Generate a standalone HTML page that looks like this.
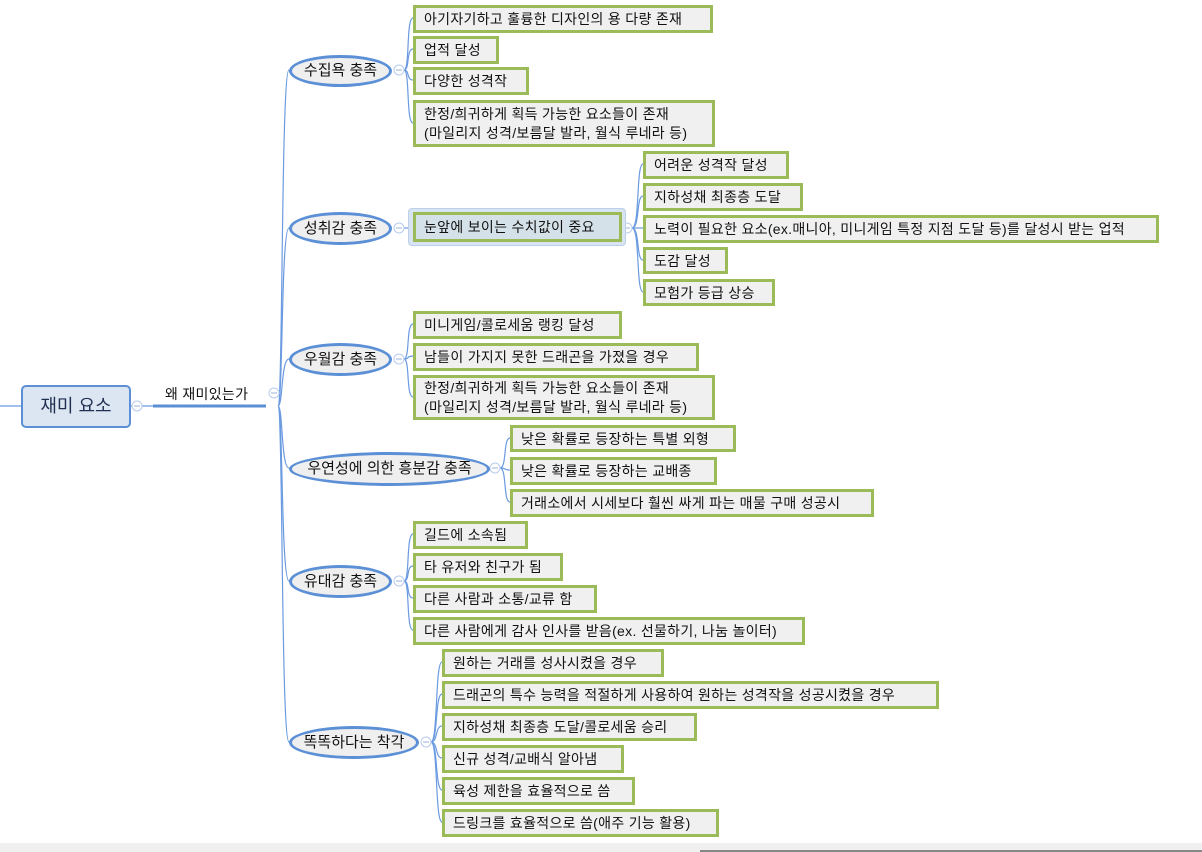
<!DOCTYPE html>
<html><head><meta charset="utf-8"><style>
body{margin:0;width:1202px;height:852px;background:#fff;position:relative;overflow:hidden;font-family:"Liberation Sans","Noto Sans CJK KR","NanumGothic",sans-serif;color:#111}
.b{position:absolute;box-sizing:border-box;border:3px solid #9bbb59;background:#f0f0f0;font-size:14px;line-height:20px;padding:1px 8px;white-space:nowrap;overflow:hidden;letter-spacing:0.3px}
.e{position:absolute;box-sizing:border-box;border:3px solid #5b8fd6;border-radius:50%;background:#efefef;font-size:15px;text-align:center;white-space:nowrap}
.t{position:absolute;font-size:14px;white-space:nowrap;letter-spacing:0.3px}
</style></head><body>
<svg width="1202" height="852" style="position:absolute;left:0;top:0">
<g fill="none" stroke="#6a9ae0" stroke-width="1.2">
<path d="M0,406 H21"/><path d="M130,406 H153"/>
<path d="M278,406 C283,406 281,70 289,70"/>
<path d="M278,406 C283,406 281,228 289,228"/>
<path d="M278,406 C283,406 281,359 289,359"/>
<path d="M278,406 C283,406 281,468 289,468"/>
<path d="M278,406 C283,406 281,581 289,581"/>
<path d="M278,406 C283,406 281,742 289,742"/>
<path d="M404,70 C410,70 406,18 413,18"/><path d="M404,70 C410,70 406,49 413,49"/><path d="M404,70 C410,70 406,80 413,80"/><path d="M404,70 C410,70 406,123 413,123"/>
<path d="M404,228 H413"/>
<path d="M632,228 C640,228 636,164 643,164"/><path d="M632,228 C640,228 636,196 643,196"/><path d="M632,228 H643"/><path d="M632,228 C640,228 636,260 643,260"/><path d="M632,228 C640,228 636,292 643,292"/>
<path d="M404,359 C410,359 406,324 413,324"/><path d="M404,359 C410,359 406,356 413,356"/><path d="M404,359 C410,359 406,397 413,397"/>
<path d="M500,468 C507,468 503,438 510,438"/><path d="M500,468 C507,468 503,470 510,470"/><path d="M500,468 C507,468 503,502 510,502"/>
<path d="M404,581 C410,581 406,534 413,534"/><path d="M404,581 C410,581 406,566 413,566"/><path d="M404,581 C410,581 406,598 413,598"/><path d="M404,581 C410,581 406,630 413,630"/>
<path d="M431,742 C438,742 435,662 442,662"/><path d="M431,742 C438,742 435,694 442,694"/><path d="M431,742 C438,742 435,726 442,726"/><path d="M431,742 C438,742 435,758 442,758"/><path d="M431,742 C438,742 435,790 442,790"/><path d="M431,742 C438,742 435,822 442,822"/>
</g>
<line x1="153" y1="406" x2="266" y2="406" stroke="#5b8fd6" stroke-width="3"/>
<g fill="#fff" stroke="#b8cbee" stroke-width="1">
<circle cx="137" cy="406" r="5"/><circle cx="274" cy="393" r="5"/>
<circle cx="399" cy="70" r="5"/><circle cx="399" cy="228" r="5"/><circle cx="399" cy="359" r="5"/><circle cx="495" cy="468" r="5"/><circle cx="399" cy="581" r="5"/><circle cx="426" cy="742" r="5"/><circle cx="627" cy="228" r="5"/>
</g>
<g stroke="#9ab0d8" stroke-width="1"><line x1="134" y1="406" x2="140" y2="406"/><line x1="271" y1="393" x2="277" y2="393"/><line x1="396" y1="70" x2="402" y2="70"/><line x1="396" y1="228" x2="402" y2="228"/><line x1="396" y1="359" x2="402" y2="359"/><line x1="492" y1="468" x2="498" y2="468"/><line x1="396" y1="581" x2="402" y2="581"/><line x1="423" y1="742" x2="429" y2="742"/><line x1="624" y1="228" x2="630" y2="228"/></g>
</svg>
<div style="position:absolute;left:21px;top:385px;width:110px;height:43px;box-sizing:border-box;border:2px solid #5b8fd6;border-radius:5px;background:#dce6f2;font-size:18px;line-height:39px;text-align:center;color:#1f2f50">재미 요소</div>
<div class="t" style="left:165px;top:384px">왜 재미있는가</div>

<div class="e" style="left:289px;top:55px;width:103px;height:32px;line-height:26px">수집욕 충족</div>
<div class="e" style="left:289px;top:212px;width:103px;height:33px;line-height:27px">성취감 충족</div>
<div class="e" style="left:289px;top:343px;width:103px;height:33px;line-height:27px">우월감 충족</div>
<div class="e" style="left:289px;top:452px;width:201px;height:34px;line-height:28px">우연성에 의한 흥분감 충족</div>
<div class="e" style="left:289px;top:565px;width:103px;height:33px;line-height:27px">유대감 충족</div>
<div class="e" style="left:289px;top:726px;width:130px;height:33px;line-height:27px">똑똑하다는 착각</div>

<div class="b" style="left:413px;top:5px;width:300px;height:28px">아기자기하고 훌륭한 디자인의 용 다량 존재</div>
<div class="b" style="left:413px;top:36px;width:86px;height:28px">업적 달성</div>
<div class="b" style="left:413px;top:67px;width:116px;height:28px">다양한 성격작</div>
<div class="b" style="left:413px;top:100px;width:302px;height:47px;line-height:19px;padding-top:2px">한정/희귀하게 획득 가능한 요소들이 존재<br>(마일리지 성격/보름달 발라, 월식 루네라 등)</div>

<div style="position:absolute;left:408px;top:208px;width:218px;height:38px;border-radius:4px;background:#d8e4f2;border:1px solid #bcd0ea;box-sizing:border-box"></div>
<div class="b" style="left:413px;top:212px;width:209px;height:30px;background:#d5e1e8;line-height:22px">눈앞에 보이는 수치값이 중요</div>

<div class="b" style="left:643px;top:151px;width:146px;height:28px">어려운 성격작 달성</div>
<div class="b" style="left:643px;top:183px;width:160px;height:28px">지하성채 최종층 도달</div>
<div class="b" style="left:643px;top:215px;width:516px;height:28px">노력이 필요한 요소(ex.매니아, 미니게임 특정 지점 도달 등)를 달성시 받는 업적</div>
<div class="b" style="left:643px;top:247px;width:85px;height:27px">도감 달성</div>
<div class="b" style="left:643px;top:279px;width:132px;height:27px">모험가 등급 상승</div>

<div class="b" style="left:413px;top:311px;width:209px;height:28px">미니게임/콜로세움 랭킹 달성</div>
<div class="b" style="left:413px;top:343px;width:286px;height:28px">남들이 가지지 못한 드래곤을 가졌을 경우</div>
<div class="b" style="left:413px;top:375px;width:302px;height:45px;line-height:19px;padding-top:1px">한정/희귀하게 획득 가능한 요소들이 존재<br>(마일리지 성격/보름달 발라, 월식 루네라 등)</div>

<div class="b" style="left:510px;top:425px;width:226px;height:27px">낮은 확률로 등장하는 특별 외형</div>
<div class="b" style="left:510px;top:457px;width:207px;height:28px">낮은 확률로 등장하는 교배종</div>
<div class="b" style="left:510px;top:489px;width:364px;height:28px">거래소에서 시세보다 훨씬 싸게 파는 매물 구매 성공시</div>

<div class="b" style="left:413px;top:521px;width:115px;height:28px">길드에 소속됨</div>
<div class="b" style="left:413px;top:553px;width:150px;height:28px">타 유저와 친구가 됨</div>
<div class="b" style="left:413px;top:585px;width:184px;height:28px">다른 사람과 소통/교류 함</div>
<div class="b" style="left:413px;top:617px;width:392px;height:28px">다른 사람에게 감사 인사를 받음(ex. 선물하기, 나눔 놀이터)</div>

<div class="b" style="left:442px;top:649px;width:222px;height:28px">원하는 거래를 성사시켰을 경우</div>
<div class="b" style="left:442px;top:681px;width:497px;height:28px">드래곤의 특수 능력을 적절하게 사용하여 원하는 성격작을 성공시켰을 경우</div>
<div class="b" style="left:442px;top:713px;width:255px;height:28px">지하성채 최종층 도달/콜로세움 승리</div>
<div class="b" style="left:442px;top:745px;width:182px;height:28px">신규 성격/교배식 알아냄</div>
<div class="b" style="left:442px;top:777px;width:193px;height:28px">육성 제한을 효율적으로 씀</div>
<div class="b" style="left:442px;top:809px;width:277px;height:28px">드링크를 효율적으로 씀(애주 기능 활용)</div>

<div style="position:absolute;left:0;top:843px;width:1202px;height:9px;background:#f0f0f0"></div>
<div style="position:absolute;left:700px;top:850px;width:502px;height:2px;background:#888"></div>
</body></html>
